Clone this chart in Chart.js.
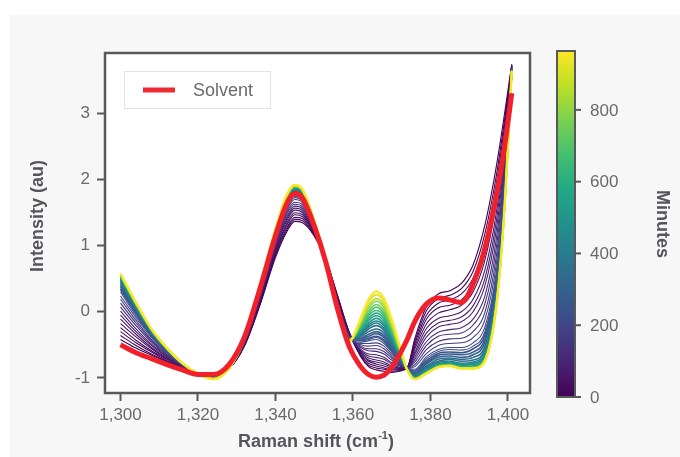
<!DOCTYPE html>
<html><head><meta charset="utf-8">
<script src="https://cdn.jsdelivr.net/npm/chart.js@4.4.1/dist/chart.umd.min.js"></script>
<style>html,body{margin:0;padding:0;background:#fff;}canvas{display:block;}</style>
</head><body>
<canvas id="c" width="680" height="457"></canvas>
<script>
// ---------- data ----------
const wavenumbers = [1300,1304,1308,1312,1316,1320,1324,1328,1332,1336,1340,1343,1345,1347,1350,1353,1356,1359,1362,1364,1366,1368,1370,1372,1374,1376,1379,1382,1385,1388,1391,1394,1397,1399,1401];
const minutes = [0,10,20,32,45,60,75,90,110,130,155,180,210,230,250,275,300,335,370,410,450,495,540,590,640,690,740,795,850,905,960];
const solvent = [-0.50,-0.62,-0.71,-0.80,-0.88,-0.95,-0.95,-0.80,-0.38,0.35,1.15,1.65,1.79,1.72,1.30,0.75,0.05,-0.52,-0.83,-0.95,-0.99,-0.96,-0.84,-0.65,-0.42,-0.14,0.12,0.21,0.18,0.14,0.42,0.95,1.75,2.45,3.31];

const spec_0   = [-0.42,-0.55,-0.66,-0.76,-0.85,-0.93,-0.93,-0.86,-0.52,0.10,0.82,1.22,1.37,1.35,1.15,0.80,0.25,-0.30,-0.68,-0.83,-0.88,-0.90,-0.92,-0.90,-0.85,-0.40,0.08,0.27,0.32,0.43,0.71,1.30,2.20,2.95,3.75];
const spec_10  = [-0.36,-0.51,-0.64,-0.75,-0.85,-0.93,-0.94,-0.86,-0.51,0.12,0.85,1.25,1.40,1.38,1.16,0.80,0.24,-0.31,-0.67,-0.81,-0.85,-0.87,-0.90,-0.89,-0.85,-0.44,0.02,0.20,0.25,0.35,0.61,1.17,2.06,2.85,3.74];
const spec_20  = [-0.30,-0.47,-0.61,-0.74,-0.84,-0.93,-0.94,-0.86,-0.51,0.13,0.87,1.28,1.43,1.41,1.18,0.80,0.23,-0.31,-0.65,-0.78,-0.82,-0.85,-0.88,-0.88,-0.85,-0.48,-0.05,0.13,0.18,0.27,0.51,1.04,1.94,2.76,3.74];
const spec_32  = [-0.24,-0.43,-0.59,-0.72,-0.84,-0.93,-0.94,-0.86,-0.50,0.15,0.90,1.32,1.47,1.44,1.19,0.80,0.21,-0.32,-0.64,-0.75,-0.79,-0.82,-0.86,-0.87,-0.85,-0.52,-0.11,0.06,0.10,0.18,0.41,0.91,1.79,2.66,3.73];
const spec_45  = [-0.18,-0.38,-0.56,-0.71,-0.83,-0.93,-0.95,-0.86,-0.50,0.17,0.92,1.35,1.50,1.47,1.20,0.79,0.20,-0.33,-0.62,-0.73,-0.76,-0.79,-0.84,-0.86,-0.85,-0.56,-0.18,-0.02,0.03,0.10,0.30,0.77,1.65,2.56,3.72];
const spec_60  = [-0.11,-0.34,-0.54,-0.70,-0.83,-0.93,-0.95,-0.86,-0.49,0.19,0.95,1.39,1.54,1.50,1.22,0.79,0.18,-0.34,-0.61,-0.70,-0.73,-0.76,-0.82,-0.85,-0.85,-0.61,-0.25,-0.10,-0.06,0.00,0.19,0.62,1.50,2.46,3.72];
const spec_75  = [-0.05,-0.30,-0.51,-0.68,-0.82,-0.93,-0.96,-0.86,-0.48,0.20,0.97,1.42,1.57,1.53,1.23,0.79,0.17,-0.34,-0.59,-0.67,-0.69,-0.72,-0.79,-0.84,-0.85,-0.64,-0.32,-0.17,-0.13,-0.08,0.09,0.49,1.37,2.36,3.71];
const spec_90  = [0.01,-0.26,-0.49,-0.67,-0.82,-0.93,-0.96,-0.86,-0.48,0.22,1.00,1.45,1.60,1.56,1.25,0.79,0.16,-0.35,-0.57,-0.64,-0.65,-0.69,-0.77,-0.82,-0.86,-0.68,-0.38,-0.23,-0.19,-0.15,0.00,0.38,1.24,2.27,3.70];
const spec_110 = [0.07,-0.21,-0.46,-0.66,-0.82,-0.93,-0.97,-0.86,-0.47,0.24,1.03,1.49,1.63,1.59,1.26,0.79,0.15,-0.36,-0.54,-0.59,-0.60,-0.64,-0.73,-0.81,-0.86,-0.72,-0.45,-0.31,-0.27,-0.24,-0.11,0.23,1.10,2.17,3.70];
const spec_130 = [0.13,-0.17,-0.44,-0.65,-0.81,-0.93,-0.97,-0.86,-0.46,0.26,1.05,1.52,1.66,1.62,1.27,0.79,0.13,-0.36,-0.52,-0.56,-0.56,-0.60,-0.70,-0.79,-0.86,-0.76,-0.51,-0.37,-0.34,-0.32,-0.20,0.11,0.97,2.08,3.69];
const spec_155 = [0.19,-0.13,-0.42,-0.63,-0.81,-0.93,-0.98,-0.86,-0.46,0.27,1.08,1.55,1.70,1.65,1.29,0.79,0.12,-0.37,-0.50,-0.52,-0.51,-0.56,-0.67,-0.78,-0.86,-0.80,-0.57,-0.45,-0.41,-0.40,-0.30,-0.02,0.84,1.98,3.69];
const spec_180 = [0.24,-0.09,-0.39,-0.62,-0.80,-0.93,-0.98,-0.86,-0.45,0.29,1.10,1.58,1.73,1.67,1.30,0.79,0.11,-0.38,-0.48,-0.48,-0.47,-0.52,-0.64,-0.76,-0.86,-0.83,-0.63,-0.51,-0.48,-0.47,-0.39,-0.13,0.72,1.90,3.68];
const spec_210 = [0.30,-0.06,-0.37,-0.61,-0.80,-0.93,-0.99,-0.86,-0.44,0.31,1.12,1.61,1.75,1.70,1.31,0.79,0.10,-0.39,-0.46,-0.44,-0.42,-0.48,-0.61,-0.75,-0.86,-0.87,-0.68,-0.57,-0.54,-0.54,-0.47,-0.24,0.60,1.82,3.67];
const spec_230 = [0.33,-0.03,-0.36,-0.60,-0.80,-0.93,-0.99,-0.86,-0.44,0.31,1.13,1.63,1.77,1.71,1.32,0.79,0.09,-0.39,-0.44,-0.42,-0.39,-0.45,-0.59,-0.74,-0.86,-0.89,-0.71,-0.60,-0.57,-0.58,-0.52,-0.31,0.54,1.77,3.67];
const spec_250 = [0.35,-0.02,-0.35,-0.60,-0.80,-0.94,-0.99,-0.86,-0.44,0.32,1.14,1.64,1.79,1.73,1.32,0.79,0.09,-0.39,-0.43,-0.40,-0.37,-0.43,-0.58,-0.73,-0.86,-0.90,-0.74,-0.63,-0.61,-0.62,-0.56,-0.36,0.48,1.73,3.67];
const spec_275 = [0.38,0.00,-0.34,-0.59,-0.79,-0.94,-0.99,-0.86,-0.43,0.33,1.16,1.66,1.80,1.74,1.33,0.79,0.08,-0.40,-0.41,-0.37,-0.33,-0.39,-0.55,-0.72,-0.86,-0.92,-0.77,-0.66,-0.64,-0.65,-0.61,-0.42,0.42,1.69,3.67];
const spec_300 = [0.41,0.02,-0.33,-0.59,-0.79,-0.94,-1.00,-0.86,-0.43,0.34,1.17,1.67,1.82,1.76,1.34,0.78,0.08,-0.40,-0.40,-0.34,-0.30,-0.36,-0.53,-0.70,-0.86,-0.94,-0.79,-0.69,-0.67,-0.69,-0.65,-0.47,0.37,1.65,3.66];
const spec_335 = [0.44,0.04,-0.32,-0.58,-0.79,-0.94,-1.00,-0.86,-0.43,0.35,1.18,1.69,1.83,1.77,1.34,0.78,0.07,-0.41,-0.38,-0.30,-0.26,-0.32,-0.50,-0.69,-0.87,-0.95,-0.82,-0.72,-0.70,-0.72,-0.69,-0.53,0.31,1.61,3.66];
const spec_370 = [0.46,0.06,-0.31,-0.58,-0.79,-0.94,-1.00,-0.86,-0.42,0.36,1.19,1.70,1.84,1.78,1.35,0.78,0.07,-0.41,-0.36,-0.26,-0.21,-0.28,-0.47,-0.68,-0.87,-0.97,-0.84,-0.75,-0.72,-0.75,-0.73,-0.58,0.26,1.58,3.66];
const spec_410 = [0.48,0.07,-0.30,-0.57,-0.79,-0.94,-1.00,-0.86,-0.42,0.37,1.20,1.72,1.86,1.79,1.35,0.78,0.06,-0.41,-0.34,-0.23,-0.17,-0.25,-0.45,-0.66,-0.87,-0.98,-0.86,-0.77,-0.75,-0.78,-0.76,-0.62,0.22,1.55,3.66];
const spec_450 = [0.50,0.08,-0.29,-0.57,-0.79,-0.94,-1.01,-0.86,-0.42,0.37,1.21,1.73,1.87,1.80,1.36,0.78,0.06,-0.42,-0.32,-0.20,-0.14,-0.21,-0.42,-0.65,-0.87,-0.99,-0.88,-0.79,-0.76,-0.80,-0.78,-0.65,0.19,1.53,3.66];
const spec_495 = [0.51,0.09,-0.29,-0.56,-0.78,-0.94,-1.01,-0.86,-0.42,0.38,1.21,1.73,1.88,1.81,1.36,0.78,0.06,-0.42,-0.30,-0.17,-0.10,-0.18,-0.39,-0.64,-0.87,-1.00,-0.89,-0.80,-0.78,-0.81,-0.80,-0.67,0.16,1.51,3.65];
const spec_540 = [0.53,0.10,-0.28,-0.56,-0.78,-0.94,-1.01,-0.86,-0.41,0.38,1.22,1.74,1.88,1.82,1.36,0.78,0.06,-0.43,-0.28,-0.13,-0.06,-0.14,-0.37,-0.62,-0.87,-1.00,-0.90,-0.81,-0.79,-0.83,-0.82,-0.70,0.14,1.49,3.65];
const spec_590 = [0.54,0.11,-0.28,-0.56,-0.78,-0.94,-1.01,-0.86,-0.41,0.39,1.23,1.75,1.89,1.82,1.37,0.78,0.05,-0.43,-0.26,-0.10,-0.02,-0.10,-0.34,-0.61,-0.87,-1.01,-0.91,-0.82,-0.80,-0.83,-0.83,-0.71,0.12,1.48,3.65];
const spec_640 = [0.54,0.11,-0.28,-0.56,-0.78,-0.94,-1.01,-0.86,-0.41,0.39,1.23,1.75,1.89,1.83,1.37,0.78,0.05,-0.43,-0.24,-0.06,0.02,-0.06,-0.31,-0.60,-0.87,-1.01,-0.92,-0.82,-0.80,-0.84,-0.84,-0.72,0.11,1.47,3.65];
const spec_690 = [0.55,0.12,-0.27,-0.56,-0.78,-0.94,-1.01,-0.86,-0.41,0.40,1.23,1.76,1.90,1.83,1.37,0.78,0.05,-0.43,-0.22,-0.03,0.07,-0.03,-0.28,-0.58,-0.87,-1.01,-0.92,-0.83,-0.81,-0.85,-0.84,-0.73,0.10,1.47,3.65];
const spec_740 = [0.56,0.12,-0.27,-0.56,-0.78,-0.94,-1.02,-0.86,-0.41,0.40,1.24,1.76,1.90,1.84,1.37,0.78,0.05,-0.44,-0.20,0.01,0.11,0.01,-0.26,-0.57,-0.88,-1.02,-0.92,-0.83,-0.81,-0.85,-0.85,-0.74,0.10,1.46,3.65];
const spec_795 = [0.56,0.13,-0.27,-0.55,-0.78,-0.94,-1.02,-0.86,-0.41,0.41,1.24,1.77,1.91,1.84,1.38,0.78,0.05,-0.44,-0.18,0.05,0.16,0.06,-0.22,-0.55,-0.88,-1.02,-0.93,-0.83,-0.81,-0.85,-0.85,-0.74,0.09,1.46,3.65];
const spec_850 = [0.57,0.13,-0.26,-0.55,-0.78,-0.94,-1.02,-0.86,-0.40,0.41,1.24,1.77,1.91,1.84,1.38,0.78,0.05,-0.44,-0.15,0.09,0.20,0.10,-0.19,-0.54,-0.88,-1.02,-0.93,-0.84,-0.82,-0.86,-0.86,-0.74,0.09,1.45,3.65];
const spec_905 = [0.57,0.14,-0.26,-0.55,-0.78,-0.94,-1.02,-0.86,-0.40,0.42,1.25,1.78,1.92,1.85,1.38,0.78,0.05,-0.45,-0.13,0.14,0.26,0.15,-0.16,-0.52,-0.88,-1.02,-0.93,-0.84,-0.82,-0.86,-0.86,-0.75,0.08,1.45,3.65];
const spec_960 = [0.58,0.14,-0.26,-0.55,-0.78,-0.94,-1.02,-0.86,-0.40,0.42,1.25,1.78,1.92,1.85,1.38,0.78,0.05,-0.45,-0.10,0.18,0.31,0.20,-0.12,-0.50,-0.88,-1.02,-0.93,-0.84,-0.82,-0.86,-0.86,-0.75,0.08,1.45,3.65];

const spectra = [spec_0,spec_10,spec_20,spec_32,spec_45,spec_60,spec_75,spec_90,spec_110,spec_130,spec_155,spec_180,spec_210,spec_230,spec_250,spec_275,spec_300,spec_335,spec_370,spec_410,spec_450,spec_495,spec_540,spec_590,spec_640,spec_690,spec_740,spec_795,spec_850,spec_905,spec_960];

const xTickValues = [1300,1320,1340,1360,1380,1400];
const yTickValues = [-1,0,1,2,3];
const colorbarTicks = [0,200,400,600,800];
const colorbarMax = 964;
const solventLabel = 'Solvent';

// ---------- styling ----------
const FONT = '"Liberation Sans", Arial, Helvetica, sans-serif';
const INK = '#58595b';
const TICK_TXT = '#6a6a6a';
const TITLE_TXT = '#555658';
const VIRIDIS = ['#440154','#482475','#414487','#355f8d','#2a788e','#21918c','#22a884','#44bf70','#7ad151','#bddf26','#fde725'];
function hex2rgb(h){return [parseInt(h.slice(1,3),16),parseInt(h.slice(3,5),16),parseInt(h.slice(5,7),16)];}
function viridis(f){
  f = Math.max(0, Math.min(1, f));
  const p = f*(VIRIDIS.length-1), i = Math.min(Math.floor(p), VIRIDIS.length-2), r = p-i;
  const a = hex2rgb(VIRIDIS[i]), b = hex2rgb(VIRIDIS[i+1]);
  return 'rgb(' + a.map((v,k)=>Math.round(v+(b[k]-v)*r)).join(',') + ')';
}
const toPoints = arr => arr.map((y,i)=>({x: wavenumbers[i], y}));

const datasets = [{
  label: solventLabel, data: toPoints(solvent), borderColor: '#f2202a', borderWidth: 5,
  order: 0, cubicInterpolationMode: 'monotone', pointRadius: 0
}];
spectra.forEach((s, i) => {
  const last = i === spectra.length - 1;
  datasets.push({
    label: minutes[i] + ' min', data: toPoints(s), borderColor: viridis(minutes[i]/colorbarMax),
    borderWidth: last ? 2.4 : (minutes[i] >= 250 ? 1.6 : 1.1), order: 200 - i,
    cubicInterpolationMode: 'monotone', pointRadius: 0
  });
});

const decor = {
  id: 'decor',
  beforeDraw(chart){
    const {ctx, chartArea: a} = chart;
    ctx.save();
    ctx.fillStyle = '#ffffff'; ctx.fillRect(0,0,chart.width,chart.height);
    ctx.fillStyle = '#f7f7f7'; ctx.fillRect(10,15,chart.width-10,chart.height-15);
    ctx.fillStyle = '#ffffff'; ctx.fillRect(a.left,a.top,a.right-a.left,a.bottom-a.top);
    ctx.restore();
  },
  afterDraw(chart){
    const {ctx, chartArea: a} = chart;
    ctx.save();
    ctx.strokeStyle = INK; ctx.lineWidth = 2.5;
    ctx.strokeRect(a.left, a.top, a.right-a.left, a.bottom-a.top);

    // legend
    ctx.fillStyle = '#ffffff'; ctx.fillRect(124.5,71.5,146,37);
    ctx.strokeStyle = '#e3e3e3'; ctx.lineWidth = 1; ctx.strokeRect(124.5,71.5,146,37);
    ctx.strokeStyle = '#ee2a33'; ctx.lineWidth = 5; ctx.lineCap = 'butt';
    ctx.beginPath(); ctx.moveTo(143,90); ctx.lineTo(175,90); ctx.stroke();
    ctx.fillStyle = TICK_TXT; ctx.font = '18px ' + FONT; ctx.textBaseline = 'middle'; ctx.textAlign = 'left';
    ctx.fillText(chart.data.datasets[0].label, 193, 91);

    // colorbar
    const cbL = 557, cbR = 575, cbT = 51, cbB = 397;
    const g = ctx.createLinearGradient(0, cbB, 0, cbT);
    VIRIDIS.forEach((c,i)=>g.addColorStop(i/(VIRIDIS.length-1), c));
    ctx.fillStyle = g; ctx.fillRect(cbL, cbT, cbR-cbL, cbB-cbT);
    ctx.strokeStyle = INK; ctx.lineWidth = 2; ctx.strokeRect(cbL, cbT, cbR-cbL, cbB-cbT);
    ctx.font = '17px ' + FONT; ctx.fillStyle = TICK_TXT; ctx.textAlign = 'left'; ctx.textBaseline = 'middle';
    colorbarTicks.forEach(v => {
      const y = cbB - (v/colorbarMax)*(cbB-cbT);
      ctx.beginPath(); ctx.moveTo(cbR, y); ctx.lineTo(cbR+6, y); ctx.stroke();
      ctx.fillText(String(v), 590, y+1);
    });

    // axis titles
    ctx.fillStyle = TITLE_TXT;
    ctx.font = 'bold 18px ' + FONT; ctx.textBaseline = 'alphabetic';
    const t1 = 'Raman shift (cm', t2 = '-1', t3 = ')';
    const w1 = ctx.measureText(t1).width, w3 = ctx.measureText(t3).width;
    ctx.font = 'bold 11px ' + FONT; const w2 = ctx.measureText(t2).width;
    let x0 = 316 - (w1+w2+w3)/2;
    ctx.font = 'bold 18px ' + FONT; ctx.textAlign = 'left';
    ctx.fillText(t1, x0, 447);
    ctx.font = 'bold 11px ' + FONT; ctx.fillText(t2, x0+w1, 439);
    ctx.font = 'bold 18px ' + FONT; ctx.fillText(t3, x0+w1+w2, 447);

    ctx.textAlign = 'center'; ctx.textBaseline = 'middle';
    ctx.save(); ctx.translate(38, 216); ctx.rotate(-Math.PI/2);
    ctx.fillText('Intensity (au)', 0, 0); ctx.restore();
    ctx.save(); ctx.translate(662, 224); ctx.rotate(Math.PI/2);
    ctx.fillText('Minutes', 0, 0); ctx.restore();
    ctx.restore();
  }
};

new Chart(document.getElementById('c'), {
  type: 'line',
  data: { datasets },
  options: {
    responsive: false, animation: false, devicePixelRatio: 1,
    layout: { padding: { top: 53, right: 150, bottom: 0, left: 0 } },
    plugins: { legend: { display: false }, tooltip: { enabled: false } },
    elements: { point: { radius: 0 } },
    scales: {
      x: {
        type: 'linear', min: 1296, max: 1405.7,
        afterBuildTicks: s => { s.ticks = xTickValues.map(v => ({ value: v })); },
        afterFit: s => { s.height = 64; },
        border: { display: false },
        grid: { drawOnChartArea: false, drawTicks: true, tickLength: 8, tickColor: INK, tickWidth: 2 },
        ticks: { color: TICK_TXT, font: { family: FONT, size: 17 }, padding: 4, maxRotation: 0,
                 callback: v => Number(v).toLocaleString('en-US') }
      },
      y: {
        type: 'linear', min: -1.23, max: 3.92,
        afterBuildTicks: s => { s.ticks = yTickValues.map(v => ({ value: v })); },
        afterFit: s => { s.width = 105; },
        border: { display: false },
        grid: { drawOnChartArea: false, drawTicks: true, tickLength: 8, tickColor: INK, tickWidth: 2 },
        ticks: { color: TICK_TXT, font: { family: FONT, size: 17 }, padding: 7,
                 callback: v => String(v) }
      }
    }
  },
  plugins: [decor]
});
</script>
</body></html>
